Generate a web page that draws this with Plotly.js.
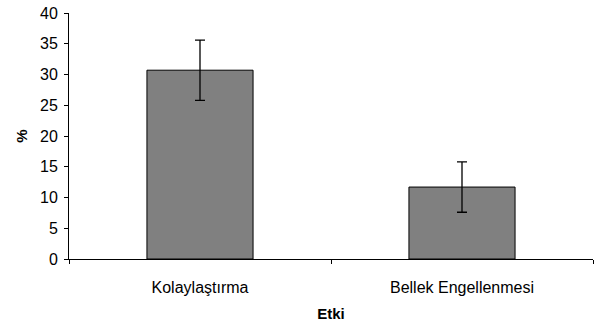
<!DOCTYPE html>
<html>
<head>
<meta charset="utf-8">
<script src="https://cdn.plot.ly/plotly-3.0.1.min.js"></script>
<style>html,body{margin:0;padding:0;background:#fff;}#chart{width:595px;height:326px;}</style>
</head>
<body>
<div id="chart"></div>
<script>
const categories = ["Kolaylaştırma", "Bellek Engellenmesi"];
const values = [30.7, 11.7];
const errors = [4.9, 4.1];
const yTicks = [0, 5, 10, 15, 20, 25, 30, 35, 40];

const trace = {
  type: "bar",
  x: categories,
  y: values,
  width: 0.405,
  marker: {color: "#808080", line: {color: "#000000", width: 1}},
  error_y: {type: "data", array: errors, visible: true, color: "#000000", thickness: 1.3, width: 5},
  hoverinfo: "none"
};

const layout = {
  width: 595, height: 326,
  margin: {l: 69, r: 2, t: 13, b: 67},
  paper_bgcolor: "#ffffff", plot_bgcolor: "#ffffff",
  font: {family: "Liberation Sans, Arial, sans-serif", size: 16, color: "#000000"},
  showlegend: false,
  bargap: 0.6,
  xaxis: {
    type: "category",
    showline: true, linecolor: "#000000", linewidth: 1,
    ticks: "outside", ticklen: 4, tickcolor: "#000000", tickson: "boundaries",
    ticklabelstandoff: 14,
    showgrid: false, zeroline: false,
    tickfont: {size: 16},
    title: {text: "<b>Etki</b>", font: {size: 15}, standoff: 13}
  },
  yaxis: {
    range: [0, 40],
    tickvals: yTicks,
    showline: true, linecolor: "#000000", linewidth: 1,
    ticks: "outside", ticklen: 4, tickcolor: "#000000",
    ticklabelstandoff: 3,
    showgrid: false, zeroline: false,
    tickfont: {size: 16},
    title: {text: "<b>%</b>", font: {size: 15}, standoff: 8}
  }
};

Plotly.newPlot("chart", [trace], layout, {staticPlot: true, displayModeBar: false});
</script>
</body>
</html>
